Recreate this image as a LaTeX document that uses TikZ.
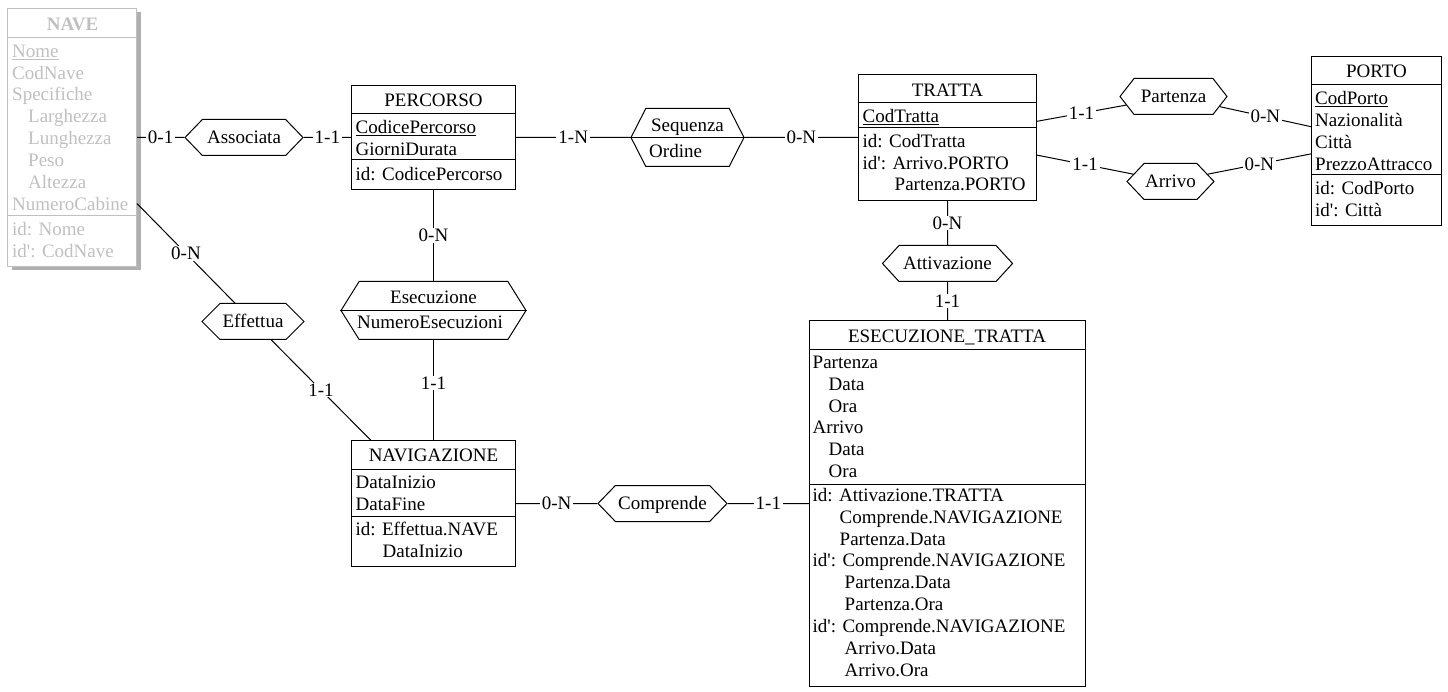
\documentclass[tikz,border=0pt]{standalone}
\usepackage{fontspec}
\setmainfont{Liberation Serif}
\usetikzlibrary{shapes.symbols,calc}
\definecolor{navegray}{RGB}{192,192,192}
\definecolor{shadowgray}{RGB}{176,176,176}
\tikzset{
  txt/.style={font=\fontsize{19}{21.85}\selectfont, inner sep=0pt},
  attrtxt/.style={txt, anchor=base west},
  ttl/.style={txt, anchor=base},
  ent/.style={draw, line width=1pt, fill=white, inner sep=0pt},
  sepline/.style={line width=1pt},
  relbox/.style={draw, line width=1pt, fill=white, shape=signal, signal to=west and east, txt, text height=15pt, text depth=2.4pt},
  conn/.style={line width=1pt},
  card/.style={txt, fill=white, inner xsep=2pt, inner ysep=1pt},
}
\begin{document}
\begin{tikzpicture}[x=1pt,y=-1pt]
\useasboundingbox (0,0) rectangle (1448,692);

% ---------- NAVE (gray) ----------
\node[fill=shadowgray, inner sep=0pt, minimum width=129pt, minimum height=258pt] (naveshadow) at (76,141.5) {};
\node[ent, draw=navegray, minimum width=129pt, minimum height=258pt] (nave) at (72,137.5) {};
\draw[sepline, navegray] ($(nave.north west)+(0,30)$) -- ($(nave.north east)+(0,30)$);
\draw[sepline, navegray] ($(nave.north west)+(0,208)$) -- ($(nave.north east)+(0,208)$);
\node[ttl, text=navegray] (nave-t) at (72.5,30.3) {\textbf{NAVE}};
\foreach \t [count=\i] in {\underline{Nome}, CodNave, Specifiche, \hspace{16pt}Larghezza, \hspace{16pt}Lunghezza, \hspace{16pt}Peso, \hspace{16pt}Altezza, NumeroCabine}
  \node[attrtxt, text=navegray] (nave-a\i) at (12,{57.3+21.85*(\i-1)}) {\t};
\foreach \t [count=\i] in {id: Nome, id\textquotesingle: CodNave}
  \node[attrtxt, text=navegray] (nave-i\i) at (12,{235.3+21.85*(\i-1)}) {\t};

% ---------- PERCORSO ----------
\node[ent, minimum width=164pt, minimum height=104pt] (percorso) at (433.5,137.5) {};
\draw[sepline] ($(percorso.north west)+(0,29)$) -- ($(percorso.north east)+(0,29)$);
\draw[sepline] ($(percorso.north west)+(0,75)$) -- ($(percorso.north east)+(0,75)$);
\node[ttl] (percorso-t) at (433.5,106.3) {PERCORSO};
\foreach \t [count=\i] in {\underline{CodicePercorso}, GiorniDurata}
  \node[attrtxt] (percorso-a\i) at (355.5,{133.3+21.85*(\i-1)}) {\t};
\node[attrtxt] (percorso-i1) at (355.5,180.3) {id: CodicePercorso};

% ---------- TRATTA ----------
\node[ent, minimum width=178pt, minimum height=126pt] (tratta) at (947.5,137.5) {};
\draw[sepline] ($(tratta.north west)+(0,29)$) -- ($(tratta.north east)+(0,29)$);
\draw[sepline] ($(tratta.north west)+(0,54)$) -- ($(tratta.north east)+(0,54)$);
\node[ttl] (tratta-t) at (947.5,96.3) {TRATTA};
\node[attrtxt] (tratta-a1) at (862.5,122.3) {\underline{CodTratta}};
\foreach \t [count=\i] in {id: CodTratta, id\textquotesingle: Arrivo.PORTO, \hspace{32pt}Partenza.PORTO}
  \node[attrtxt] (tratta-i\i) at (862.5,{147.3+21.85*(\i-1)}) {\t};

% ---------- PORTO ----------
\node[ent, minimum width=130pt, minimum height=169pt] (porto) at (1376.5,141) {};
\draw[sepline] ($(porto.north west)+(0,29)$) -- ($(porto.north east)+(0,29)$);
\draw[sepline] ($(porto.north west)+(0,119)$) -- ($(porto.north east)+(0,119)$);
\node[ttl] (porto-t) at (1376.5,77.8) {PORTO};
\foreach \t [count=\i] in {\underline{CodPorto}, Nazionalità, Città, PrezzoAttracco}
  \node[attrtxt] (porto-a\i) at (1315,{104.6+21.85*(\i-1)}) {\t};
\foreach \t [count=\i] in {id: CodPorto, id\textquotesingle: Città}
  \node[attrtxt] (porto-i\i) at (1315,{194.6+21.85*(\i-1)}) {\t};

% ---------- NAVIGAZIONE ----------
\node[ent, minimum width=164pt, minimum height=126pt] (navig) at (433.5,503.5) {};
\draw[sepline] ($(navig.north west)+(0,29)$) -- ($(navig.north east)+(0,29)$);
\draw[sepline] ($(navig.north west)+(0,76)$) -- ($(navig.north east)+(0,76)$);
\node[ttl] (navig-t) at (433.5,461.8) {NAVIGAZIONE};
\foreach \t [count=\i] in {DataInizio, DataFine}
  \node[attrtxt] (navig-a\i) at (355.5,{488.3+21.85*(\i-1)}) {\t};
\foreach \t [count=\i] in {id: Effettua.NAVE, \hspace{27pt}DataInizio}
  \node[attrtxt] (navig-i\i) at (355.5,{535.3+21.85*(\i-1)}) {\t};

% ---------- ESECUZIONE_TRATTA ----------
\node[ent, minimum width=276pt, minimum height=366pt] (et) at (947.5,503.5) {};
\draw[sepline] ($(et.north west)+(0,30)$) -- ($(et.north east)+(0,30)$);
\draw[sepline] ($(et.north west)+(0,164)$) -- ($(et.north east)+(0,164)$);
\node[ttl] (et-t) at (947,342.8) {ESECUZIONE\_TRATTA};
\foreach \t [count=\i] in {Partenza, \hspace{16pt}Data, \hspace{16pt}Ora, Arrivo, \hspace{16pt}Data, \hspace{16pt}Ora}
  \node[attrtxt] (et-a\i) at (812.5,{368.3+21.85*(\i-1)}) {\t};
\foreach \t [count=\i] in {id: Attivazione.TRATTA, \hspace{27pt}Comprende.NAVIGAZIONE, \hspace{27pt}Partenza.Data,
    id\textquotesingle: Comprende.NAVIGAZIONE, \hspace{32pt}Partenza.Data, \hspace{32pt}Partenza.Ora,
    id\textquotesingle: Comprende.NAVIGAZIONE, \hspace{32pt}Arrivo.Data, \hspace{32pt}Arrivo.Ora}
  \node[attrtxt] (et-i\i) at (812.5,{501.3+21.85*(\i-1)}) {\t};

% ---------- relationships ----------
\node[relbox, minimum width=118pt, minimum height=36pt, signal pointer angle=92] (assoc) at (244,137.5) {Associata};
\node[relbox, minimum width=113pt, minimum height=58pt, signal pointer angle=126] (seq) at (687.5,137.5) {};
\draw[sepline] (seq.west) -- (seq.east);
\node[ttl] (seq-t) at (687.5,131.3) {Sequenza};
\node[attrtxt] (seq-a) at (649,157.3) {Ordine};
\node[relbox, minimum width=107pt, minimum height=36pt, signal pointer angle=104] (part) at (1173.5,96.5) {Partenza};
\node[relbox, minimum width=87pt, minimum height=36pt, signal pointer angle=93] (arr) at (1170.5,181.5) {Arrivo};
\node[relbox, minimum width=130pt, minimum height=36pt, signal pointer angle=95] (attiv) at (947.5,263.5) {Attivazione};
\node[relbox, minimum width=185pt, minimum height=58pt, signal pointer angle=116] (esec) at (433.5,310.5) {};
\draw[sepline] (esec.west) -- (esec.east);
\node[ttl] (esec-t) at (433.5,303.6) {Esecuzione};
\node[attrtxt] (esec-a) at (357,329) {NumeroEsecuzioni};
\node[relbox, minimum width=102pt, minimum height=36pt, signal pointer angle=90] (eff) at (253,321.5) {Effettua};
\node[relbox, minimum width=129pt, minimum height=36pt, signal pointer angle=92] (compr) at (662.5,503.5) {Comprende};

% ---------- connectors ----------
\draw[conn] (nave) -- node[card] (c1) {0-1} (assoc);
\draw[conn] (assoc) -- node[card] (c2) {1-1} (percorso);
\draw[conn] (percorso) -- node[card] (c3) {1-N} (seq);
\draw[conn] (seq) -- node[card] (c4) {0-N} (tratta);
\draw[conn] (tratta) -- node[card] (c5) {1-1} (part);
\draw[conn] (part) -- node[card] (c6) {0-N} (porto);
\draw[conn] (tratta) -- node[card] (c7) {1-1} (arr);
\draw[conn] (arr) -- node[card] (c8) {0-N} (porto);
\draw[conn] (tratta) -- node[card] (c9) {0-N} (attiv);
\draw[conn] (attiv) -- node[card] (c10) {1-1} (et);
\draw[conn] (percorso) -- node[card] (c11) {0-N} (esec);
\draw[conn] (esec) -- node[card, pos=0.43] (c12) {1-1} (navig);
\draw[conn] (nave) -- node[card] (c13) {0-N} (eff);
\draw[conn] (eff) -- node[card] (c14) {1-1} (navig);
\draw[conn] (navig) -- node[card] (c15) {0-N} (compr);
\draw[conn] (compr) -- node[card] (c16) {1-1} (et);
\end{tikzpicture}
\end{document}
